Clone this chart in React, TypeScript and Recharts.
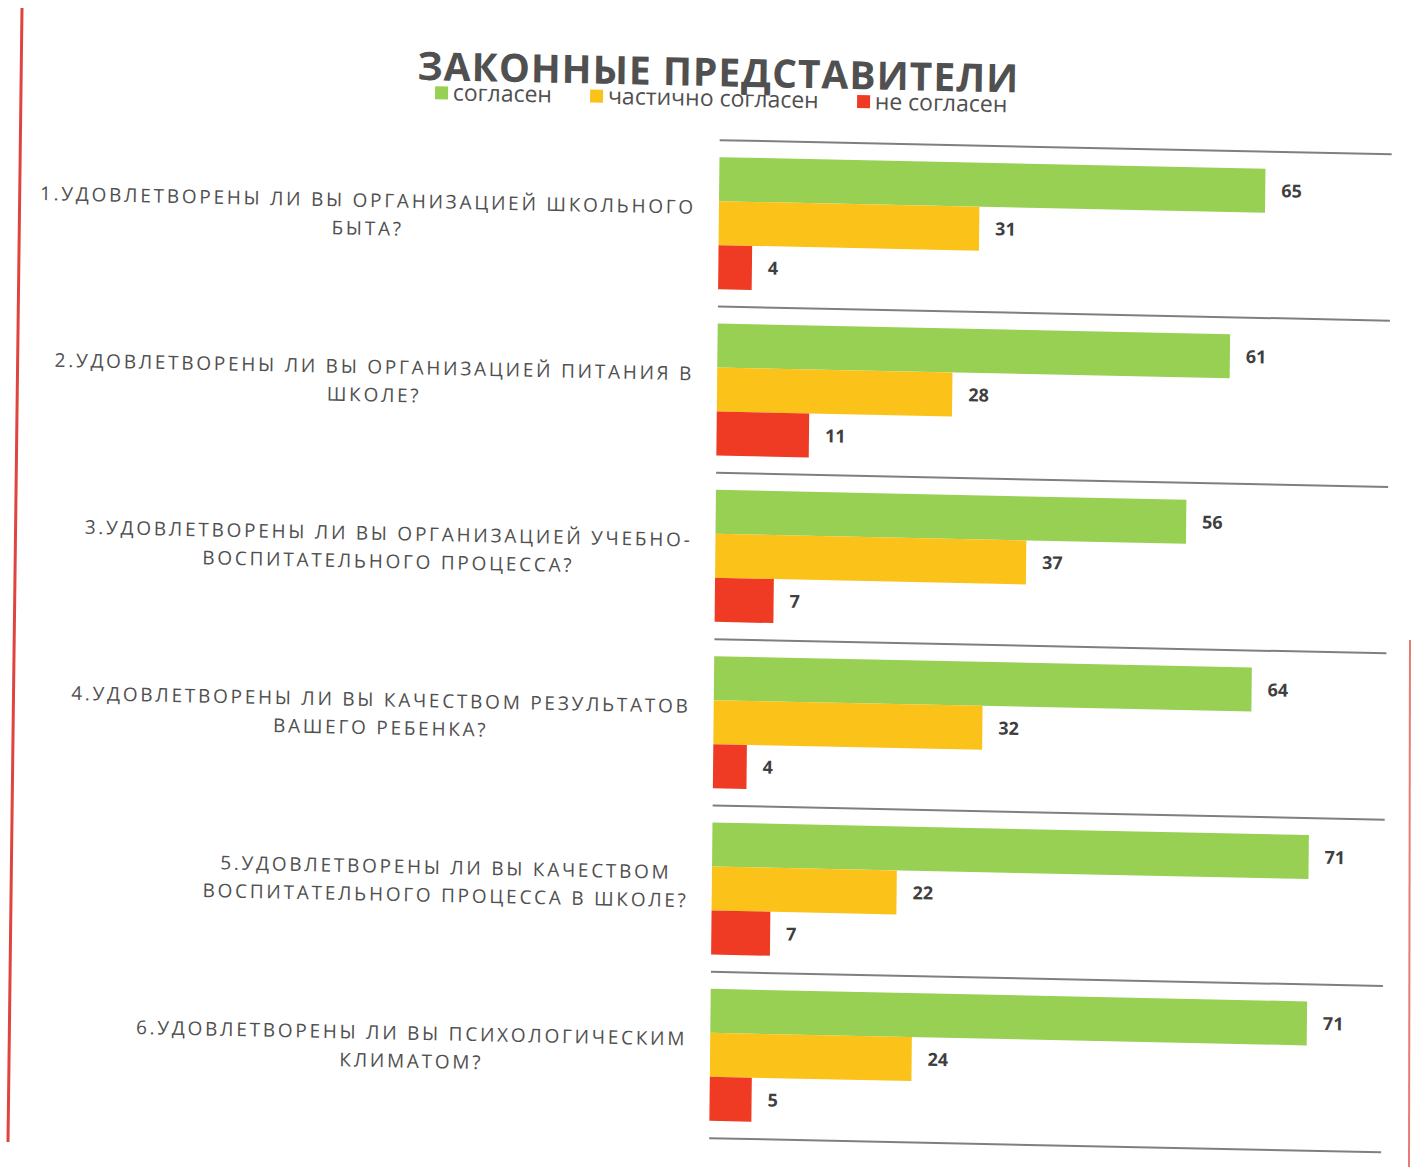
import React from 'react'
import { BarChart, Bar, XAxis, YAxis, CartesianGrid, LabelList } from 'recharts'

// question labels, already split into the two lines they wrap to
const questions = [
  ['1.УДОВЛЕТВОРЕНЫ ЛИ ВЫ ОРГАНИЗАЦИЕЙ ШКОЛЬНОГО', 'БЫТА?'],
  ['2.УДОВЛЕТВОРЕНЫ ЛИ ВЫ ОРГАНИЗАЦИЕЙ ПИТАНИЯ В', 'ШКОЛЕ?'],
  ['3.УДОВЛЕТВОРЕНЫ ЛИ ВЫ ОРГАНИЗАЦИЕЙ УЧЕБНО-', 'ВОСПИТАТЕЛЬНОГО ПРОЦЕССА?'],
  ['4.УДОВЛЕТВОРЕНЫ ЛИ ВЫ КАЧЕСТВОМ РЕЗУЛЬТАТОВ', 'ВАШЕГО РЕБЕНКА?'],
  ['5.УДОВЛЕТВОРЕНЫ ЛИ ВЫ КАЧЕСТВОМ', 'ВОСПИТАТЕЛЬНОГО ПРОЦЕССА В ШКОЛЕ?'],
  ['6.УДОВЛЕТВОРЕНЫ ЛИ ВЫ ПСИХОЛОГИЧЕСКИМ', 'КЛИМАТОМ?'],
]

const agree = [65, 61, 56, 64, 71, 71]
const partly = [31, 28, 37, 32, 22, 24]
const disagree = [4, 11, 7, 4, 7, 5]

const seriesInfo = [
  { key: 'agree', name: 'согласен', color: '#97d053' },
  { key: 'partly', name: 'частично согласен', color: '#fbc21a' },
  { key: 'disagree', name: 'не согласен', color: '#ef3b24' },
]

const data = questions.map((q, i) => ({
  label: q.join(' '),
  lines: q,
  agree: agree[i],
  partly: partly[i],
  disagree: disagree[i],
}))

const TEXT = '#505050'
const LABEL_FONT = '19px "Open Sans"'
const LETTER_SPACING = 2.75

let canvasCtx: CanvasRenderingContext2D | null = null
const measure = (s: string) => {
  if (!canvasCtx) canvasCtx = document.createElement('canvas').getContext('2d')
  if (!canvasCtx) return s.length * 14
  canvasCtx.font = LABEL_FONT
  return canvasCtx.measureText(s).width + s.length * LETTER_SPACING
}

// two centred lines, the block itself pushed against the bars
const QuestionTick = (props: any) => {
  const { x, y, payload, index } = props
  const lines: string[] = data[index]?.lines || [String(payload.value)]
  const w = Math.max(...lines.map(measure))
  const cx = x - w / 2
  const mid = y - 2
  return (
    <text
      x={cx}
      y={mid}
      textAnchor="middle"
      fill={TEXT}
      style={{ font: LABEL_FONT, letterSpacing: LETTER_SPACING }}
    >
      {lines.map((l, i) => (
        <tspan key={i} x={cx} y={mid + (i - (lines.length - 1) / 2) * 28 + 7}>
          {l}
        </tspan>
      ))}
    </text>
  )
}

const ChartLegend = () => (
  <div style={{ position: 'absolute', top: 85, left: 0, width: 1412, display: 'flex', justifyContent: 'center', gap: 38, fontFamily: 'Open Sans', fontSize: 23, color: TEXT, lineHeight: '24px', paddingLeft: 20, boxSizing: 'border-box' }}>
    {seriesInfo.map((s) => (
      <div key={s.key} style={{ display: 'flex', alignItems: 'center' }}>
        <span style={{ width: 13, height: 13, background: s.color, display: 'inline-block', marginRight: 5, marginTop: 2 }} />
        <span>{s.name}</span>
      </div>
    ))}
  </div>
)

export default function App() {
  return (
    <div style={{ position: 'absolute', left: 0, top: 0, width: 1412, height: 1167, background: '#fff', overflow: 'hidden' }}>
      {/* page border of the scanned sheet */}
      <svg width={1412} height={1167} style={{ position: 'absolute', left: 0, top: 0 }}>
        <line x1={22} y1={8} x2={8} y2={1142} stroke="#e0443e" strokeWidth={3} />
        <line x1={1410} y1={640} x2={1409} y2={1167} stroke="#e0443e" strokeWidth={2} opacity={0.7} />
      </svg>
      {/* the sheet was scanned slightly askew */}
      <div style={{ position: 'absolute', left: 0, top: 0, width: 1412, height: 1167, transform: 'matrix(1, 0.021, -0.0105, 1, 0, 0)', transformOrigin: '706px 583px' }}>
        <div style={{ position: 'absolute', top: 54, left: 0, width: 1426, textAlign: 'center', fontFamily: 'Open Sans', fontWeight: 700, fontSize: 39, lineHeight: '34px', color: TEXT, letterSpacing: 1 }}>
          ЗАКОННЫЕ ПРЕДСТАВИТЕЛИ
        </div>
        <ChartLegend />
        <BarChart
          width={1412}
          height={1167}
          data={data}
          layout="vertical"
          margin={{ top: 140, right: 25, bottom: 29, left: 0 }}
          barGap={0}
          style={{ position: 'absolute', left: 0, top: 0 }}
        >
          <CartesianGrid
            vertical={false}
            stroke="#7f7f7f"
            strokeWidth={2}
            horizontalCoordinatesGenerator={({ offset }: any) =>
              data.map((_, i) => offset.top + (i * offset.height) / data.length).concat(offset.top + offset.height)
            }
          />
          <XAxis type="number" domain={[0, 80]} hide />
          <YAxis
            type="category"
            dataKey="label"
            width={715}
            axisLine={false}
            tickLine={false}
            tickSize={0}
            tickMargin={23}
            interval={0}
            tick={<QuestionTick />}
          />
          {seriesInfo.map((s) => (
            <Bar key={s.key} dataKey={s.key} name={s.name} fill={s.color} barSize={44} isAnimationActive={false}>
              <LabelList dataKey={s.key} position="right" offset={16} fill="#3f3f3f" fontFamily="Open Sans" fontWeight={700} fontSize={18} />
            </Bar>
          ))}
        </BarChart>
      </div>
    </div>
  )
}
